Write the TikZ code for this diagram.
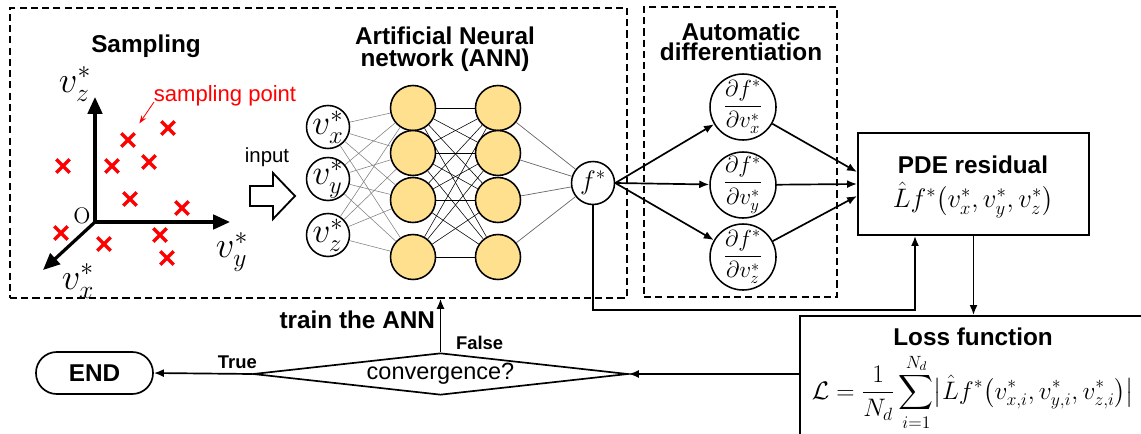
\RequirePackage{fix-cm}
\documentclass[tikz,border=0pt]{standalone}
\usepackage{amsmath}
\usepackage[no-math]{fontspec}
\setmainfont{Liberation Sans}
\usepackage{xcolor}
\usepackage{tikz}
\usetikzlibrary{arrows.meta,shapes.geometric,shapes.misc,calc}
\definecolor{neuronfill}{RGB}{255,224,143}
\newcommand{\fsize}[1]{\fontsize{#1}{#1}\selectfont}

\begin{document}
\begin{tikzpicture}[x=0.025cm,y=-0.025cm,
		ttl/.style={font=\fsize{17.3}\bfseries},
		lbl/.style={font=\fsize{13.1}\bfseries},
		frame/.style={draw,line width=1.1pt,dash pattern=on 5pt off 3pt},
		neuron/.style={circle,draw,line width=1.1pt,minimum size=43*0.025cm,inner sep=0pt},
		hidden/.style={neuron,fill=neuronfill,minimum size=45*0.025cm},
		dnode/.style={neuron,minimum size=66*0.025cm},
		box/.style={draw,line width=1.4pt,inner sep=0pt},
		flow/.style={line width=1.2pt,-{Latex[length=0.25cm,width=0.2cm]}},
		axis/.style={line width=2.3pt,-{Triangle[length=0.42cm,width=0.36cm]}},
		samp/.style={cross out,draw=red,line width=2.4pt,minimum size=0.25cm,inner sep=0pt}]
	\useasboundingbox (0,0) rectangle (1141,433);

	% dashed frames
	\node[frame,minimum width=617*0.025cm,minimum height=290*0.025cm] (annframe) at (318.5,153) {};
	\node[frame,minimum width=193*0.025cm,minimum height=290*0.025cm] (adframe) at (740.5,152) {};
	\node[ttl] (samptitle) at (146,46) {Sampling};
	\node[ttl,align=center] (anntitle) at (445,49) {Artificial Neural\\[-2pt]network (ANN)};
	\node[ttl,align=center] (adtitle) at (741,42) {Automatic\\[-3pt]differentiation};

	% sampling space
	\coordinate (O) at (95,222);
	\coordinate (zend) at (95,97);
	\coordinate (yend) at (230,222);
	\coordinate (xend) at (43,270);
	\draw[axis] (O) -- (zend);
	\draw[axis] (O) -- (yend);
	\draw[axis] (O) -- (xend);
	\node[font=\fsize{16}] (olbl) at (82,216) {$\mathrm{O}$};
	\node[font=\fsize{26}] (zlbl) at (75,84) {$v_z^*$};
	\node[font=\fsize{26}] (ylbl) at (232,252) {$v_y^*$};
	\node[font=\fsize{26}] (xlbl) at (78,281) {$v_x^*$};
	\foreach \x/\y [count=\i] in {63/166,112/166,128/140,149/162,168/128,130/199,182/208,61/233,104/244,160/235,167/258}
		\node[samp] (s\i) at (\x,\y) {};
	\node[text=red,font=\fsize{15.7}] (samplbl) at (225,96) {sampling point};
	\coordinate (sparrow) at (154,102);
	\draw[red,line width=0.6pt,-{Stealth[length=0.2cm,width=0.14cm]},shorten >=0.3cm] (sparrow) -- (s3);

	\node[font=\fsize{14.5}] (inputlbl) at (267,157) {input};
	\draw[line width=1.3pt,fill=white] (250,186) -- (273,186) -- (273,173) -- (295,196) -- (273,219) -- (273,206) -- (250,206) -- cycle;

	% network
	\foreach \v/\y in {x/127,y/179,z/235} {
		\node[neuron] (in\v) at (328,\y) {};
		\node[font=\fsize{25}] (inl\v) at (in\v) {$v_\v^*$};
	}
	\foreach \y [count=\i] in {108,153,200,257} {
		\node[hidden] (a\i) at (413,\y) {};
		\node[hidden] (b\i) at (498,\y) {};
	}
	\node[neuron] (f) at (593,183) {};
	\node[font=\fsize{19}] (flbl) at (f) {$f^*$};
	\foreach \v in {x,y,z}
		\foreach \i in {1,...,4}
			\draw[gray,line width=0.4pt] (in\v) -- (a\i);
	\foreach \i in {1,...,4} {
		\foreach \j in {1,...,4}
			\draw[line width=0.4pt] (a\i) -- (b\j);
		\draw[gray!80!black,line width=0.5pt] (b\i) -- (f);
	}

	% automatic differentiation
	\node[box,minimum width=231*0.025cm,minimum height=102*0.025cm] (pde) at (973.5,184) {};
	\node[ttl] (pdettl) at (973,165) {PDE residual};
	\node[font=\fsize{19}] (pdeeq) at (973,200) {$\hat{L}f^*\bigl(v_x^*,v_y^*,v_z^*\bigr)$};
	\foreach \v/\y/\off in {x/107/-12,y/185/0,z/257/12} {
		\node[dnode] (d\v) at (743,\y) {};
		\node[font=\fsize{16.5}] (dl\v) at (d\v) {$\dfrac{\partial f^*}{\partial v_\v^*}$};
		\draw[flow] (f.east) -- (d\v);
		\draw[flow] (d\v) -- ($(pde.west)+(0,\off)$);
	}

	% loss and training loop
	\node[box,minimum width=346*0.025cm,minimum height=124*0.025cm] (loss) at (973,378) {};
	\node[ttl] (lossttl) at (973,337) {Loss function};
	\node[font=\fsize{18}] (losseq) at (973,392) {$\displaystyle\mathcal{L}=\frac{1}{N_d}\sum_{i=1}^{N_d}\bigl|\hat{L}f^*\bigl(v_{x,i}^*,v_{y,i}^*,v_{z,i}^*\bigr)\bigr|$};
	\coordinate (fbend) at (915,310);
	\draw[flow] (f.south) |- (fbend) -- (fbend |- pde.south);
	\draw[flow] (pde.south) -- (pde.south |- loss.north);

	\node[diamond,draw,line width=1.2pt,aspect=9,minimum width=375*0.025cm,minimum height=42*0.025cm,inner sep=0pt,font=\fsize{16.7}] (conv) at (440.5,374) {convergence?};
	\node[draw,line width=1.2pt,rounded corners=0.52cm,minimum width=117*0.025cm,minimum height=42*0.025cm,ttl] (endnode) at (94.5,373) {END};
	\draw[flow] (loss.west |- conv.east) -- (conv.east);
	\draw[flow] (conv.west) -- node[lbl,above,pos=0.15] (truelbl) {True} (endnode.east);
	\draw[flow] (conv.north) -- node[lbl,right=0.25cm,pos=0.18] (falselbl) {False}
		node[ttl,left,pos=0.61] (trainlbl) {train the ANN} (conv.north |- annframe.south);
\end{tikzpicture}
\end{document}
